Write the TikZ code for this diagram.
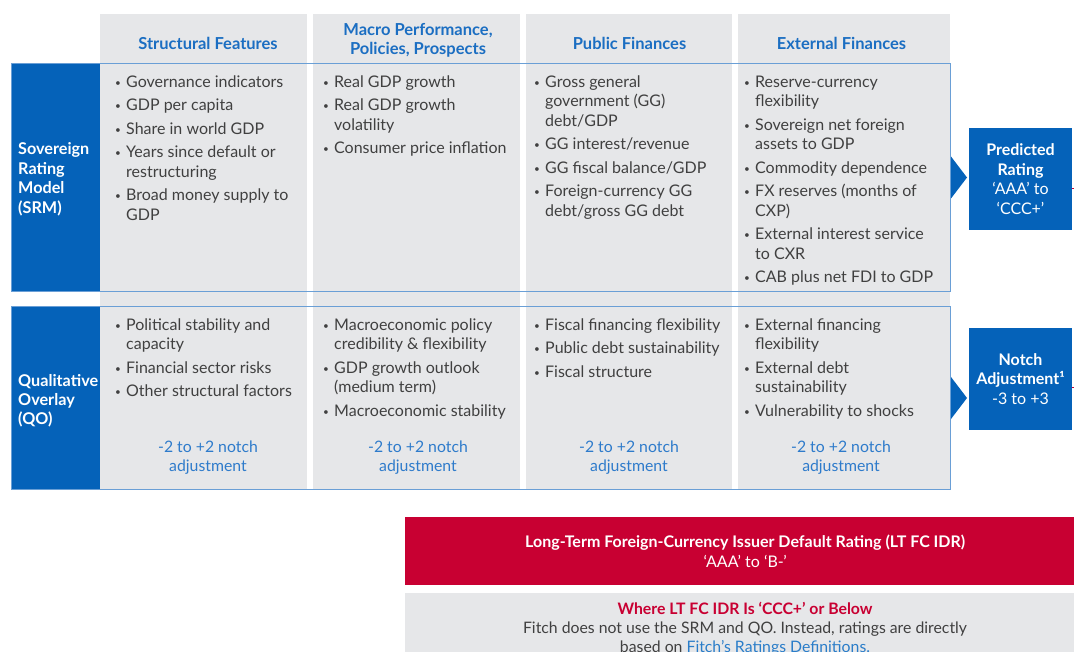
\documentclass[tikz,border=0pt]{standalone}
\usepackage{fontspec}
\setmainfont{Lato}
\usetikzlibrary{calc}

\definecolor{fblue}{HTML}{0562B9}
\definecolor{fgrey}{HTML}{E6E7E9}
\definecolor{fline}{HTML}{6A9FD6}
\definecolor{fhead}{HTML}{1B6EC2}
\definecolor{fadj}{HTML}{2E7BCB}
\definecolor{ftext}{HTML}{404040}
\definecolor{fred}{HTML}{C80032}
\definecolor{flink}{HTML}{2A7DC9}

% bullet row and continuation row inside a list
\newcommand\bl{\makebox[11pt][l]{\raisebox{1.2pt}{\fontsize{10}{10}\selectfont •}}}
\newcommand\cl{\hspace*{11pt}}
\newcommand\blist[1]{\begin{tabular}[t]{@{}l@{}}#1\end{tabular}}
\newcommand\clist[1]{\begin{tabular}[t]{@{}c@{}}#1\end{tabular}}

\tikzset{
  body/.style={font=\fontsize{16}{19.5}\selectfont},
  lst/.style={body, anchor=base west, inner sep=0pt, text=ftext},
  hdr/.style={anchor=base, inner sep=0pt, text=fhead,
              font=\bfseries\fontsize{16.5}{19.5}\selectfont},
  adj/.style={anchor=base, inner sep=0pt, text=fadj,
              font=\fontsize{15.8}{19.5}\selectfont},
  side/.style={anchor=base west, inner sep=0pt, text=white,
               font=\bfseries\fontsize{16.2}{19.5}\selectfont},
  frame/.style={draw=fline, line width=1pt, anchor=north west, inner sep=0pt},
  outbox/.style={fill=fblue, text=white, inner sep=0pt, align=center,
                 font=\fontsize{16}{19.5}\selectfont},
  chev/.style={fill=fblue},
  redline/.style={draw=fred, line width=0.8pt}
}

\begin{document}
\begin{tikzpicture}[x=1pt,y=-1pt]
\useasboundingbox (0,0) rectangle (1074,652);

% grey column strips
\fill[fgrey] (100,14) rectangle (307,489);
\fill[fgrey] (313,14) rectangle (520,489);
\fill[fgrey] (526,14) rectangle (732,489);
\fill[fgrey] (738,14) rectangle (950,489);

% row label panels
\fill[fblue] (11,63) rectangle (100,291);
\fill[fblue] (11,306) rectangle (100,489);

% row frames
\node[frame, minimum width=939pt, minimum height=228pt] (srm) at (11,63) {};
\node[frame, minimum width=939pt, minimum height=183pt] (qo) at (11,306) {};

% column headings
\node[hdr] (h1) at (208,49.5) {Structural Features};
\node[hdr, align=center, anchor=center] (h2) at (418,40.5) {Macro Performance,\\Policies, Prospects};
\node[hdr] (h3) at (629.5,49.5) {Public Finances};
\node[hdr] (h4) at (841.5,49.5) {External Finances};

% row labels
\node[side] (lsrm) at (18,155) {\blist{Sovereign\\Rating\\Model\\(SRM)}};
\node[side] (lqo) at (18,386) {\blist{Qualitative\\Overlay\\(QO)}};

% SRM contents
\node[lst] (s1) at (115,87.5) {\blist{%
  \bl Governance indicators\\[4pt]
  \bl GDP per capita\\[4pt]
  \bl Share in world GDP\\[4pt]
  \bl Years since default or\\
  \cl restructuring\\[4pt]
  \bl Broad money supply to\\
  \cl GDP}};
\node[lst] (s2) at (323,87.5) {\blist{%
  \bl Real GDP growth\\[4pt]
  \bl Real GDP growth\\
  \cl volatility\\[4pt]
  \bl Consumer price inflation}};
\node[lst] (s3) at (534,87.5) {\blist{%
  \bl Gross general\\
  \cl government (GG)\\
  \cl debt/GDP\\[4pt]
  \bl GG interest/revenue\\[4pt]
  \bl GG fiscal balance/GDP\\[4pt]
  \bl Foreign-currency GG\\
  \cl debt/gross GG debt}};
\node[lst] (s4) at (744,87.5) {\blist{%
  \bl Reserve-currency\\
  \cl flexibility\\[4pt]
  \bl Sovereign net foreign\\
  \cl assets to GDP\\[4pt]
  \bl Commodity dependence\\[4pt]
  \bl FX reserves (months of\\
  \cl CXP)\\[4pt]
  \bl External interest service\\
  \cl to CXR\\[4pt]
  \bl CAB plus net FDI to GDP}};

% QO contents
\node[lst] (q1) at (115,330.5) {\blist{%
  \bl Political stability and\\
  \cl capacity\\[4pt]
  \bl Financial sector risks\\[4pt]
  \bl Other structural factors}};
\node[lst] (q2) at (323,330.5) {\blist{%
  \bl Macroeconomic policy\\
  \cl credibility \& flexibility\\[4pt]
  \bl GDP growth outlook\\
  \cl (medium term)\\[4pt]
  \bl Macroeconomic stability}};
\node[lst] (q3) at (534,330.5) {\blist{%
  \bl Fiscal financing flexibility\\[4pt]
  \bl Public debt sustainability\\[4pt]
  \bl Fiscal structure}};
\node[lst] (q4) at (744,330.5) {\blist{%
  \bl External financing\\
  \cl flexibility\\[4pt]
  \bl External debt\\
  \cl sustainability\\[4pt]
  \bl Vulnerability to shocks}};

% notch ranges
\node[adj] (a1) at (208,452) {\clist{-2 to +2 notch\\adjustment}};
\node[adj] (a2) at (418,452) {\clist{-2 to +2 notch\\adjustment}};
\node[adj] (a3) at (629,452) {\clist{-2 to +2 notch\\adjustment}};
\node[adj] (a4) at (841,452) {\clist{-2 to +2 notch\\adjustment}};

% outcome boxes
\node[outbox, minimum width=103pt, minimum height=102pt] (pred) at (1020.5,179)
  {\textbf{Predicted}\\\textbf{Rating}\\‘AAA’ to\\‘CCC+’};
\node[outbox, minimum width=103pt, minimum height=102pt] (notch) at (1020.5,379)
  {\textbf{Notch}\\\textbf{Adjustment¹}\\-3 to +3};

% chevrons from the frames to the outcome boxes
\fill[chev] ($(srm.east)+(0,-21)$) -- ($(srm.east)+(16,0)$) -- ($(srm.east)+(0,21)$) -- cycle;
\fill[chev] ($(qo.east)+(0,-21)$) -- ($(qo.east)+(16,0)$) -- ($(qo.east)+(0,21)$) -- cycle;

% leads running off to the right
\coordinate (predout) at (1080,188);
\coordinate (notchout) at (1080,387);
\draw[redline] (pred.east |- predout) -- (predout);
\draw[redline] (notch.east |- notchout) -- (notchout);

% final rating boxes
\node[fill=fred, anchor=north west, minimum width=680pt, minimum height=68pt, inner sep=0pt] (idr) at (405,517) {};
\node[text=white, align=center, inner sep=0pt, font=\fontsize{16}{19.5}\selectfont] (idrtext) at (idr.center)
  {\textbf{Long-Term Foreign-Currency Issuer Default Rating (LT FC IDR)}\\‘AAA’ to ‘B-’};
\node[fill=fgrey, anchor=north west, minimum width=680pt, minimum height=110pt, inner sep=0pt] (ccc) at (405,593) {};
\node[anchor=base, inner sep=0pt, text=ftext, font=\fontsize{15.8}{19}\selectfont] (ccctext) at (745,614)
  {\clist{\textcolor{fred}{\textbf{Where LT FC IDR Is ‘CCC+’ or Below}}\\
   Fitch does not use the SRM and QO. Instead, ratings are directly\\
   based on \textcolor{flink}{Fitch’s Ratings Definitions.}}};
\end{tikzpicture}
\end{document}
